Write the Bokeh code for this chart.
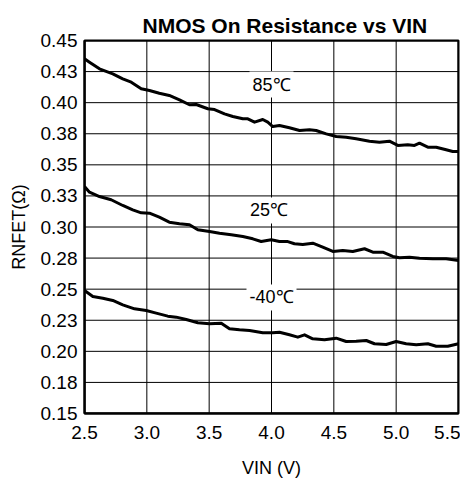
from bokeh.plotting import figure
from bokeh.models import Range1d, FixedTicker, Label, Span
from bokeh.embed import file_html
from bokeh.resources import INLINE

# ---- data ----
x_ticks = [2.5, 3.0, 3.5, 4.0, 4.5, 5.0, 5.5]
y_ticks = [0.15, 0.175, 0.20, 0.225, 0.25, 0.275, 0.30, 0.325, 0.35, 0.375, 0.40, 0.425, 0.45]
y_tick_labels = ["0.15", "0.18", "0.20", "0.23", "0.25", "0.28", "0.30", "0.33", "0.35", "0.38", "0.40", "0.43", "0.45"]

vin_85 = [2.50, 2.54, 2.62, 2.727, 2.807, 2.875, 2.955, 3.021, 3.10, 3.18, 3.262, 3.342, 3.396,
          3.489, 3.543, 3.623, 3.69, 3.77, 3.81, 3.864, 3.93, 3.97, 4.01, 4.064, 4.144, 4.225,
          4.305, 4.358, 4.439, 4.519, 4.599, 4.679, 4.786, 4.866, 4.946, 5.013, 5.093, 5.147,
          5.187, 5.254, 5.321, 5.401, 5.454, 5.50]
r_85 = [0.4353, 0.4326, 0.4272, 0.4232, 0.4192, 0.4165, 0.4112, 0.4098, 0.4076, 0.4058, 0.4023,
        0.3983, 0.3985, 0.3951, 0.3945, 0.3910, 0.3889, 0.3870, 0.3870, 0.3843, 0.3865, 0.3843,
        0.3808, 0.3816, 0.3798, 0.3776, 0.3782, 0.3776, 0.3749, 0.3728, 0.3722, 0.3709, 0.3690,
        0.3682, 0.3690, 0.3656, 0.3661, 0.3656, 0.3674, 0.3642, 0.3642, 0.3621, 0.3607, 0.3607]

vin_25 = [2.50, 2.54, 2.62, 2.714, 2.807, 2.887, 2.955, 3.021, 3.10, 3.18, 3.262, 3.342, 3.409,
          3.503, 3.583, 3.677, 3.77, 3.85, 3.917, 3.998, 4.064, 4.131, 4.184, 4.251, 4.331,
          4.411, 4.492, 4.572, 4.652, 4.746, 4.813, 4.893, 4.973, 5.027, 5.107, 5.187, 5.294,
          5.401, 5.50]
r_25 = [0.3326, 0.3280, 0.3245, 0.3219, 0.3173, 0.3138, 0.3114, 0.3111, 0.3079, 0.3039, 0.3026,
        0.3018, 0.2978, 0.2964, 0.2950, 0.2937, 0.2923, 0.2905, 0.2883, 0.2897, 0.2883, 0.2883,
        0.2865, 0.2859, 0.2870, 0.2838, 0.2803, 0.2811, 0.2803, 0.2825, 0.2797, 0.2797, 0.2763,
        0.2752, 0.2757, 0.2749, 0.2744, 0.2744, 0.2731]

vin_m40 = [2.50, 2.567, 2.647, 2.727, 2.807, 2.901, 2.995, 3.075, 3.168, 3.236, 3.316, 3.409,
           3.503, 3.597, 3.663, 3.743, 3.824, 3.93, 4.01, 4.064, 4.144, 4.211, 4.265, 4.331,
           4.425, 4.519, 4.599, 4.679, 4.76, 4.826, 4.92, 5.0, 5.08, 5.161, 5.254, 5.321,
           5.414, 5.50]
r_m40 = [0.2489, 0.2441, 0.2427, 0.2409, 0.2374, 0.2342, 0.2328, 0.2307, 0.2283, 0.2275, 0.2256,
         0.2230, 0.2221, 0.2226, 0.2181, 0.2173, 0.2168, 0.2149, 0.2149, 0.2154, 0.2133, 0.2114,
         0.2133, 0.2101, 0.2093, 0.2106, 0.2079, 0.2082, 0.2087, 0.2061, 0.2055, 0.2079, 0.2061,
         0.2053, 0.2061, 0.2041, 0.2041, 0.2061]

series_labels = ["85\u2103", "25\u2103", "-40\u2103"]

FONT = "Liberation Sans"

p = figure(frame_width=374, frame_height=373,
           min_border_left=84, min_border_right=2, min_border_top=40, min_border_bottom=68,
           x_range=Range1d(2.5, 5.5), y_range=Range1d(0.15, 0.45),
           output_backend="svg", toolbar_location=None, tools="")

p.title.text = "NMOS On Resistance vs VIN"
p.title.text_font = FONT
p.title.text_font_size = "21px"
p.title.text_font_style = "bold"
p.title.align = "left"
p.title.offset = 58
p.title.standoff = 8
p.title.text_color = "black"

p.background_fill_color = "white"
p.border_fill_color = "white"
p.outline_line_color = "black"
p.outline_line_width = 2
p.outline_line_alpha = 1

for ax in (p.xaxis[0], p.yaxis[0]):
    ax.axis_line_color = "black"
    ax.axis_line_width = 2
    ax.major_tick_line_color = None
    ax.minor_tick_line_color = None
    ax.major_tick_out = 0
    ax.major_tick_in = 0
    ax.major_label_text_font = FONT
    ax.major_label_text_font_size = "19px"
    ax.major_label_text_color = "black"
    ax.axis_label_text_font = FONT
    ax.axis_label_text_font_size = "18px"
    ax.axis_label_text_font_style = "normal"
    ax.axis_label_text_color = "black"

p.xaxis.ticker = FixedTicker(ticks=x_ticks)
p.xaxis.major_label_overrides = {t: f"{t:.1f}" for t in x_ticks}
p.xaxis.axis_label = "VIN (V)"
p.xaxis.major_label_standoff = 12
p.xaxis.axis_label_standoff = 16

p.yaxis.ticker = FixedTicker(ticks=y_ticks)
p.yaxis.major_label_overrides = dict(zip(y_ticks, y_tick_labels))
p.yaxis.axis_label = "RNFET(\u03a9)"
p.yaxis.major_label_standoff = 7
p.yaxis.axis_label_standoff = 9

p.xgrid.grid_line_color = None
p.ygrid.grid_line_color = None

# grid drawn as spans from the tick arrays (edges thicker, as the frame)
for t in x_ticks:
    edge = t in (x_ticks[0], x_ticks[-1])
    p.add_layout(Span(location=t, dimension="height", line_color="black",
                      line_width=2 if edge else 1, level="glyph"))
for t in y_ticks:
    edge = t in (y_ticks[0], y_ticks[-1])
    p.add_layout(Span(location=t, dimension="width", line_color="black",
                      line_width=2 if edge else 1, level="glyph"))

for xs, ys in ((vin_85, r_85), (vin_25, r_25), (vin_m40, r_m40)):
    p.line(xs, ys, line_color="black", line_width=3, line_join="round")

label_pos = [(4.0, 0.4146), (3.98, 0.3133), (4.0, 0.2433)]
for txt, (lx, ly) in zip(series_labels, label_pos):
    p.add_layout(Label(x=lx, y=ly, text=txt, text_align="center", text_baseline="middle",
                       text_font=FONT, text_font_size="18px", text_color="black",
                       background_fill_color="white", background_fill_alpha=1, padding=3))

open("out.html", "w").write(file_html(p, INLINE))
